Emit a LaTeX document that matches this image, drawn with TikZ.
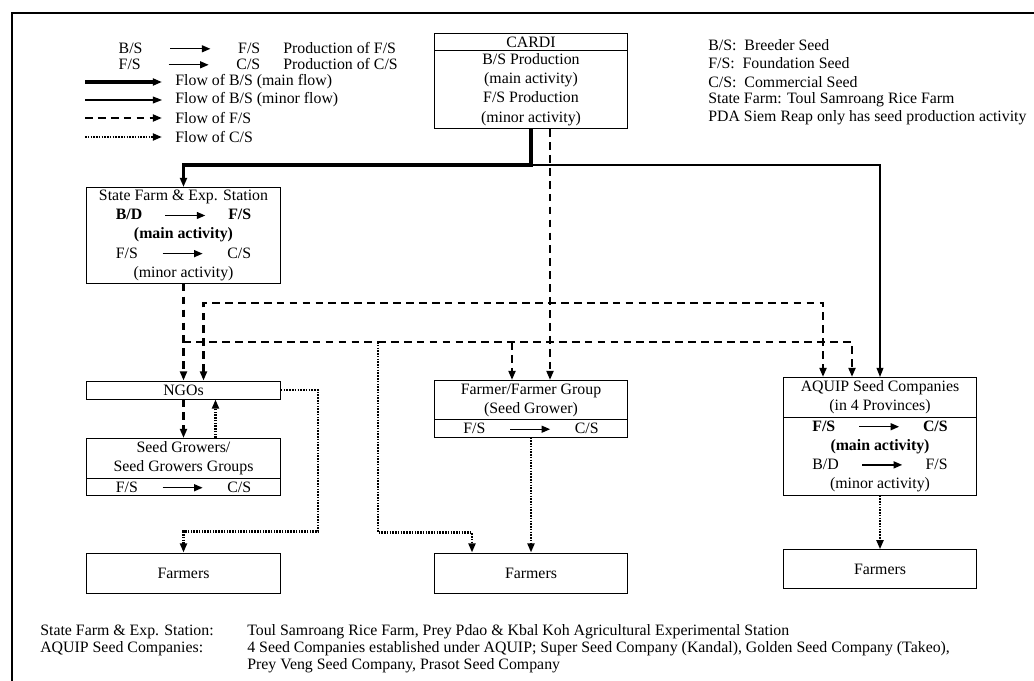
\documentclass[tikz,border=0pt]{standalone}
\usepackage{fontspec}
\setmainfont{Liberation Serif}
\usetikzlibrary{arrows.meta,shapes.multipart,calc}

\newcommand{\seedarrow}{\tikz[baseline=-0.6ex]\draw[-{Triangle[length=5.5pt,width=4.5pt]},line width=0.9pt,solid] (0pt,0pt) -- (26pt,0pt);}
\newcommand{\seedpair}[3][88pt]{\hbox to #1{#2\hfil\seedarrow\hfil #3}}

\tikzset{
  box/.style={draw,line width=0.6pt,minimum width=126pt,inner xsep=2pt,inner ysep=1.8pt,
              align=center,font=\fontsize{10.3}{12.4}\selectfont},
  splitbox/.style={box,rectangle split,rectangle split parts=2},
  txt/.style={inner sep=0pt,anchor=west,font=\fontsize{10.3}{12}\selectfont},
  legtxt/.style={txt,inner xsep=8.5pt},
  mainflow/.style={->,line width=2pt},
  minorflow/.style={->,line width=0.7pt},
  fsflow/.style={->,line width=1.5pt,dash pattern=on 5pt off 3.4pt},
  csflow/.style={->,line width=1.5pt,dash pattern=on 1pt off 0.8pt}
}

\begin{document}
\begin{tikzpicture}[x=0.65pt,y=-0.65pt,>={Triangle[length=6pt,width=4.5pt]}]
  \useasboundingbox (0,0) rectangle (1034,681);
  \draw[line width=0.8pt] (1034,13) -- (12,13) -- (12,681);

  % legend
  \node[txt,anchor=center] (lgp1) at (189.5,48) {\seedpair[92pt]{B/S}{F/S}};
  \node[txt] (lgq1) at (283,48) {Production of F/S};
  \node[txt,anchor=center] (lgp2) at (189.5,64) {\seedpair[92pt]{F/S}{C/S}};
  \node[txt] (lgq2) at (283,64) {Production of C/S};
  \coordinate (lg3) at (85,82);
  \node[legtxt] (lgt3) at (162,82) {Flow of B/S (main flow)};
  \coordinate (lg4) at (85,100);
  \node[legtxt] (lgt4) at (162,100) {Flow of B/S (minor flow)};
  \coordinate (lg5) at (85,118);
  \node[legtxt] (lgt5) at (162,118) {Flow of F/S};
  \coordinate (lg6) at (85,137);
  \node[legtxt] (lgt6) at (162,137) {Flow of C/S};
  \draw[mainflow] (lg3) -- (lgt3.west);
  \draw[minorflow] (lg4) -- (lgt4.west);
  \draw[fsflow] (lg5) -- (lgt5.west);
  \draw[csflow] (lg6) -- (lgt6.west);

  \node[txt] (ab1) at (708,45) {B/S:\ \ Breeder Seed};
  \node[txt] (ab2) at (708,63) {F/S:\ \ Foundation Seed};
  \node[txt] (ab3) at (708,82) {C/S:\ \ Commercial Seed};
  \node[txt] (ab4) at (708,100) {State Farm: Toul Samroang Rice Farm};
  \node[txt] (ab5) at (708,118) {PDA Siem Reap only has seed production activity};

  % boxes
  \node[splitbox,anchor=north] (cardi) at (531,33)
    {CARDI \nodepart{two} B/S Production\\(main activity)\\F/S Production\\(minor activity)};
  \node[box,anchor=north] (sfarm) at (183.5,187)
    {State Farm \& Exp. Station\\\seedpair{\textbf{B/D}}{\textbf{F/S}}\\\textbf{(main activity)}\\
     \seedpair{F/S}{C/S}\\(minor activity)};
  \node[box,minimum height=11.7pt,inner ysep=0pt] (ngo) at (183.5,390) {NGOs};
  \node[splitbox,anchor=north] (sgrow) at (183.5,438)
    {Seed Growers/\\Seed Growers Groups \nodepart{two} \seedpair{F/S}{C/S}};
  \node[box,minimum height=26pt] (farmL) at (183.5,573) {Farmers};
  \node[splitbox,anchor=north] (fgroup) at (531,380)
    {Farmer/Farmer Group\\(Seed Grower) \nodepart{two} \seedpair{F/S}{C/S}};
  \node[box,minimum height=26pt] (farmM) at (531,573) {Farmers};
  \node[splitbox,anchor=north] (aquip) at (880,377)
    {AQUIP Seed Companies\\(in 4 Provinces) \nodepart{two}
     \seedpair{\textbf{F/S}}{\textbf{C/S}}\\\textbf{(main activity)}\\\seedpair{B/D}{F/S}\\(minor activity)};
  \node[box,minimum height=25pt] (farmR) at (880,569) {Farmers};

  % flows
  \coordinate (split) at (cardi.south |- 0,165);
  \draw[mainflow] (cardi.south) -- (split) -| (sfarm.north);
  \draw[minorflow] (split) -| (aquip.north);
  \draw[fsflow] ($(cardi.south)+(19,0)$) -- ($(fgroup.north)+(19,0)$);
  \draw[fsflow] (sfarm.south) -- (ngo.north);
  \coordinate (jL) at (sfarm.south |- 0,342);
  \coordinate (jC) at (378,342);
  \coordinate (fgl) at ($(fgroup.north)+(-19,0)$);
  \draw[fsflow,-] (jL) -- (jC);
  \draw[fsflow] (jC) -| ($(aquip.north)+(-28,0)$);
  \draw[fsflow] (fgl |- jL) -- (fgl);
  \draw[fsflow,<->] ($(ngo.north)+(20,0)$) |- ($(aquip.north)+(-57,-74)$) -- ($(aquip.north)+(-57,0)$);
  \draw[fsflow] (ngo.south) -- (sgrow.north);
  \draw[csflow] ($(sgrow.north)+(32,0)$) -- ($(ngo.south)+(32,0)$);
  \draw[csflow] (ngo.east) -| ($(farmL.north)+(134.5,-21)$) -| (farmL.north);
  \draw[csflow] (jC) |- ($(farmM.north)+(-59,-20)$) -- ($(farmM.north)+(-59,0)$);
  \draw[csflow] (fgroup.south) -- (farmM.north);
  \draw[csflow] (aquip.south) -- (farmR.north);

  % notes
  \node[txt] (nt1) at (40,632) {State Farm \& Exp. Station:};
  \node[txt] (nt2) at (40,649) {AQUIP Seed Companies:};
  \node[txt] (nd1) at (247,632) {Toul Samroang Rice Farm, Prey Pdao \& Kbal Koh Agricultural Experimental Station};
  \node[txt] (nd2) at (247,649) {4 Seed Companies established under AQUIP; Super Seed Company (Kandal), Golden Seed Company (Takeo),};
  \node[txt] (nd3) at (247,666) {Prey Veng Seed Company, Prasot Seed Company};
\end{tikzpicture}
\end{document}
